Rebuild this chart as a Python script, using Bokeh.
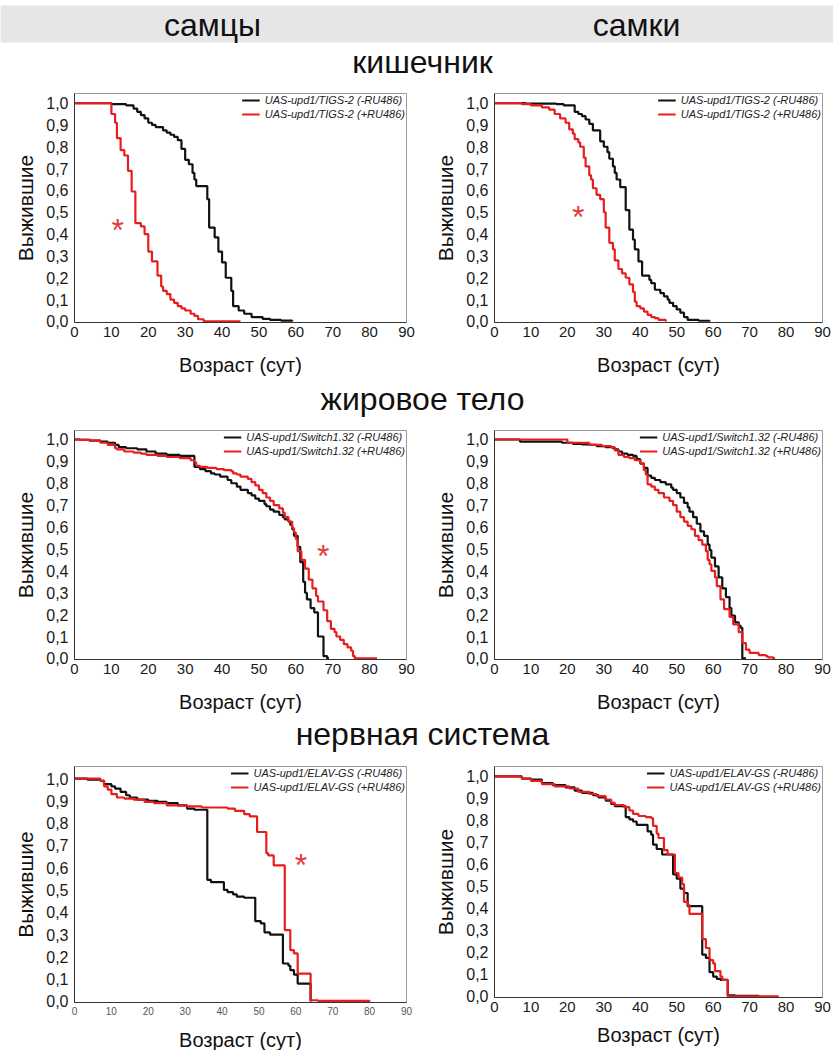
from bokeh.plotting import figure
from bokeh.layouts import column, row
from bokeh.models import Range1d, FixedTicker, Legend, LegendItem, Label, BoxAnnotation
from bokeh.embed import file_html
from bokeh.resources import INLINE

# ---------------- data (survival curves, Kaplan-Meier steps) ----------------
x_ticks = [0, 10, 20, 30, 40, 50, 60, 70, 80, 90]
y_ticks = [0.0, 0.1, 0.2, 0.3, 0.4, 0.5, 0.6, 0.7, 0.8, 0.9, 1.0]
y_tick_labels = ["0,0", "0,1", "0,2", "0,3", "0,4", "0,5", "0,6", "0,7", "0,8", "0,9", "1,0"]

column_titles = ["самцы", "самки"]
tissue_titles = ["кишечник", "жировое тело", "нервная система"]
x_title = "Возраст (сут)"
y_title = "Выжившие"

# gut, males
m_gut_ctrl_day = [0, 10, 14, 16, 17, 18, 19, 20, 21, 22, 24, 25, 26, 27, 28, 29, 30, 31, 32, 32.5,
                  33, 36, 36.5, 38, 39, 40, 41, 42.5, 43, 44.5, 46, 48, 51, 53, 56, 59]
m_gut_ctrl_surv = [1.0, 0.995, 0.99, 0.975, 0.96, 0.945, 0.93, 0.91, 0.90, 0.89, 0.875, 0.865, 0.855, 0.845, 0.83, 0.79, 0.74, 0.72, 0.68, 0.65,
                   0.62, 0.56, 0.43, 0.385, 0.32, 0.27, 0.20, 0.14, 0.07, 0.05, 0.035, 0.02, 0.012, 0.007, 0.004, 0.0]
m_gut_ru_day = [0, 10, 11, 11.5, 12.5, 13.5, 14.5, 15.5, 16.5, 18, 19, 20, 21, 22.5, 23.5, 24, 25, 26, 27, 28,
                29, 30, 31.5, 32.5, 33.5, 35, 45]
m_gut_ru_surv = [1.0, 0.95, 0.91, 0.84, 0.785, 0.76, 0.69, 0.595, 0.45, 0.435, 0.40, 0.32, 0.275, 0.21, 0.16, 0.14, 0.125, 0.10, 0.085, 0.07,
                 0.06, 0.05, 0.035, 0.025, 0.01, 0.0, 0.0]

# gut, females
f_gut_ctrl_day = [0, 8.5, 17, 19, 22, 23, 24, 25, 26, 27, 29, 30, 31, 31.5, 32.5, 33, 33.5, 34.5, 36, 37,
                  38, 38.5, 39.5, 40.5, 42.5, 43, 44, 45.5, 46.5, 47.5, 48, 49, 50, 51, 52, 53, 56, 59]
f_gut_ctrl_surv = [1.0, 0.998, 0.995, 0.99, 0.96, 0.95, 0.94, 0.925, 0.905, 0.875, 0.825, 0.80, 0.775, 0.745, 0.71, 0.68, 0.65, 0.615, 0.51, 0.42,
                   0.375, 0.33, 0.275, 0.21, 0.19, 0.175, 0.145, 0.13, 0.115, 0.10, 0.085, 0.07, 0.055, 0.04, 0.02, 0.007, 0.003, 0.0]
f_gut_ru_day = [0, 7.5, 10, 13, 15, 16.5, 18, 19.5, 20.5, 21.5, 22, 23, 23.5, 24.5, 25, 26, 26.5, 27, 28, 29,
                30, 30.5, 31.5, 32.5, 33, 34, 35, 36, 37, 38, 38.5, 39, 40, 41, 42, 43, 44, 45, 47]
f_gut_ru_surv = [1.0, 0.995, 0.99, 0.98, 0.97, 0.95, 0.93, 0.91, 0.88, 0.86, 0.835, 0.82, 0.80, 0.75, 0.71, 0.67, 0.65, 0.61, 0.58, 0.56,
                 0.50, 0.43, 0.36, 0.33, 0.28, 0.24, 0.22, 0.20, 0.17, 0.135, 0.09, 0.07, 0.06, 0.045, 0.03, 0.02, 0.015, 0.007, 0.0]

# fat body, males
m_fat_ctrl_day = [0, 1.5, 4, 7, 9, 11, 12, 14, 17, 19.5, 22, 25, 28.5, 32.5, 34, 35.5, 37, 38, 39.5, 41.5,
                  42.5, 44, 45, 47, 48, 49, 50, 51.5, 52, 53, 54, 55.5, 56.5, 57, 58, 58.5, 59, 59.5, 60.5, 61.2,
                  62, 62.5, 63, 64, 65, 66, 67.5, 68.5, 69]
m_fat_ctrl_surv = [1.0, 0.998, 0.995, 0.99, 0.985, 0.975, 0.965, 0.96, 0.955, 0.945, 0.935, 0.93, 0.925, 0.875, 0.865, 0.855, 0.845, 0.84, 0.83, 0.815,
                   0.80, 0.785, 0.77, 0.755, 0.745, 0.73, 0.72, 0.705, 0.695, 0.68, 0.67, 0.655, 0.645, 0.635, 0.625, 0.61, 0.59, 0.56, 0.51, 0.44,
                   0.35, 0.30, 0.27, 0.23, 0.21, 0.10, 0.01, 0.0, 0.0]
m_fat_ru_day = [0, 1.5, 4.5, 7, 9, 11, 11.5, 13.5, 16, 18, 19.5, 22.5, 25, 28.5, 31.5, 32.5, 33, 34, 36, 38.5,
                40.5, 42.5, 43, 44, 45, 47, 48, 49, 50, 51, 52, 53, 54, 55.5, 56.5, 57, 58, 59, 59.5, 60,
                60.5, 61.5, 62.5, 63.5, 64.5, 65.5, 66, 67.5, 68.5, 69.5, 70.5, 71, 72, 73, 74, 75, 75.5, 76, 82]
m_fat_ru_surv = [1.0, 0.998, 0.995, 0.985, 0.975, 0.96, 0.955, 0.945, 0.94, 0.935, 0.93, 0.925, 0.92, 0.915, 0.905, 0.895, 0.88, 0.875, 0.87, 0.865,
                 0.86, 0.855, 0.845, 0.84, 0.83, 0.82, 0.805, 0.79, 0.77, 0.755, 0.735, 0.72, 0.70, 0.685, 0.665, 0.645, 0.625, 0.595, 0.575, 0.545,
                 0.49, 0.45, 0.41, 0.36, 0.32, 0.285, 0.26, 0.22, 0.17, 0.135, 0.12, 0.10, 0.085, 0.065, 0.05, 0.035, 0.01, 0.0, 0.0]

# fat body, females
f_fat_ctrl_day = [0, 7, 18.5, 21.5, 24, 26, 28, 30.5, 32.5, 33, 34, 35, 36.5, 38, 39, 40, 41, 42, 43, 44,
                  45.5, 47, 48.5, 49, 50, 51, 52, 53, 53.5, 54.5, 55.5, 56.5, 57.5, 58.5, 59, 59.5, 60.5, 61.5, 62.5, 63.5,
                  64.5, 65, 66, 67, 67.5, 68, 69]
f_fat_ctrl_surv = [1.0, 0.99, 0.985, 0.98, 0.978, 0.975, 0.97, 0.965, 0.96, 0.955, 0.945, 0.935, 0.93, 0.925, 0.91, 0.89, 0.87, 0.835, 0.825, 0.815,
                   0.805, 0.795, 0.78, 0.77, 0.755, 0.735, 0.71, 0.69, 0.67, 0.645, 0.615, 0.58, 0.56, 0.52, 0.495, 0.46, 0.42, 0.37, 0.32, 0.28,
                   0.23, 0.195, 0.165, 0.15, 0.14, 0.0, 0.0]
f_fat_ru_day = [0, 20, 26, 29.5, 32, 33, 34, 35.5, 37, 38.5, 40, 41, 41.5, 42, 43, 44, 45, 46.5, 48, 49,
                50, 51, 52, 53, 54, 55, 56, 57, 58, 58.5, 59, 59.5, 60.5, 61, 62, 63, 64.5, 65.5, 67, 68,
                69, 70, 72.5, 74.5, 75, 76.5, 77]
f_fat_ru_surv = [1.0, 0.985, 0.975, 0.97, 0.965, 0.95, 0.93, 0.92, 0.915, 0.905, 0.89, 0.86, 0.84, 0.795, 0.785, 0.77, 0.755, 0.735, 0.72, 0.70,
                 0.67, 0.645, 0.625, 0.605, 0.59, 0.56, 0.54, 0.52, 0.49, 0.45, 0.43, 0.40, 0.37, 0.33, 0.27, 0.225, 0.19, 0.155, 0.12, 0.07,
                 0.04, 0.025, 0.015, 0.01, 0.005, 0.0, 0.0]

# nervous system, males
m_ns_ctrl_day = [0, 3.5, 7, 8, 10, 11, 12.5, 14, 15, 17, 20, 22.5, 25, 28, 30.5, 32.5, 36, 37, 40.5, 41.5,
                 43, 44, 46, 49, 50.5, 51.5, 53, 56.5, 58, 58.5, 59.5, 60.5, 64]
m_ns_ctrl_surv = [1.0, 0.995, 0.99, 0.975, 0.965, 0.955, 0.94, 0.925, 0.915, 0.905, 0.90, 0.895, 0.89, 0.88, 0.865, 0.86, 0.545, 0.535, 0.50, 0.49,
                  0.48, 0.47, 0.465, 0.36, 0.35, 0.31, 0.30, 0.17, 0.16, 0.14, 0.12, 0.08, 0.0]
m_ns_ru_day = [0, 7, 8, 9, 10, 11.5, 13.5, 16, 19, 21.5, 25, 30.5, 34.5, 41.5, 43.5, 46, 47.5, 49.5, 52, 52.5,
               54, 57, 58.5, 59.5, 60.5, 64, 66, 80]
m_ns_ru_surv = [1.0, 0.99, 0.965, 0.95, 0.93, 0.915, 0.91, 0.905, 0.895, 0.89, 0.88, 0.875, 0.87, 0.865, 0.855, 0.84, 0.83, 0.76, 0.665, 0.655,
                0.61, 0.32, 0.23, 0.215, 0.125, 0.005, 0.002, 0.0]

# nervous system, females
f_ns_ctrl_day = [0, 7.5, 10, 13, 16, 19.5, 22, 24, 27, 28.5, 30.5, 32, 33, 36, 37, 38, 39, 42, 43, 43.5,
                 44.5, 46, 49, 50, 51, 52, 53, 57, 58, 59, 60, 61, 62, 64, 66, 72.5]
f_ns_ctrl_surv = [1.0, 0.99, 0.985, 0.97, 0.96, 0.95, 0.935, 0.925, 0.915, 0.905, 0.89, 0.875, 0.865, 0.815, 0.805, 0.795, 0.78, 0.75, 0.735, 0.69,
                  0.67, 0.645, 0.555, 0.535, 0.49, 0.47, 0.41, 0.19, 0.175, 0.11, 0.09, 0.08, 0.075, 0.005, 0.002, 0.0]
f_ns_ru_day = [0, 7.5, 10, 13, 16.5, 20.5, 23, 26, 28, 30.5, 32, 33, 35.5, 37, 38, 39.5, 41.5, 43, 43.5, 44.5,
               45, 46.5, 47.5, 49.5, 50.5, 51.5, 52, 53, 53.5, 57, 58, 59, 60, 60.5, 62, 62.5, 64, 78]
f_ns_ru_surv = [1.0, 0.99, 0.98, 0.965, 0.955, 0.945, 0.93, 0.92, 0.91, 0.895, 0.88, 0.87, 0.86, 0.845, 0.83, 0.82, 0.815, 0.81, 0.775, 0.74,
                0.72, 0.665, 0.645, 0.56, 0.54, 0.51, 0.43, 0.415, 0.375, 0.26, 0.22, 0.165, 0.15, 0.115, 0.09, 0.075, 0.0, 0.0]

legend_gut = ["UAS-upd1/TIGS-2 (-RU486)", "UAS-upd1/TIGS-2 (+RU486)"]
legend_fat = ["UAS-upd1/Switch1.32 (-RU486)", "UAS-upd1/Switch1.32 (+RU486)"]
legend_ns = ["UAS-upd1/ELAV-GS (-RU486)", "UAS-upd1/ELAV-GS (+RU486)"]

# ---------------- styling ----------------
FONT = "Liberation Sans"
BLACK = "#111111"
RED = "#e61e1e"
FRAME = "#9a9a9a"
AXIS = "#333333"
W = 833


def heading(h, items, band=None):
    p = figure(width=W, height=h, x_range=Range1d(0, W), y_range=Range1d(h, 0),
               x_axis_location=None, y_axis_location=None, toolbar_location=None,
               output_backend="svg", min_border=0)
    p.grid.visible = False
    p.outline_line_color = None
    if band is not None:
        p.add_layout(BoxAnnotation(left=0, right=W, top=band[0], bottom=band[1],
                                   fill_color="#e6e6e6", fill_alpha=1.0, line_color=None))
    for txt, x, y in items:
        p.add_layout(Label(x=x, y=y, text=txt, text_align="center", text_baseline="middle",
                           text_font=FONT, text_font_size="32px", text_color="#111111"))
    return p


def panel(frame, borders, ymax, ctrl, ru, names, star=None, xfs="15px", xcol="#1a1a1a", xstand=14):
    fw, fh = frame
    bl, br, bt, bb = borders
    p = figure(frame_width=fw, frame_height=fh, x_range=Range1d(0, 90), y_range=Range1d(-0.005, ymax),
               min_border_left=bl, min_border_right=br, min_border_top=bt, min_border_bottom=bb,
               toolbar_location=None, output_backend="svg")
    p.grid.visible = False
    p.outline_line_color = FRAME
    p.outline_line_width = 1

    r1 = p.step(x=ctrl[0], y=ctrl[1], mode="after", line_color=BLACK, line_width=2.2)
    r2 = p.step(x=ru[0], y=ru[1], mode="after", line_color=RED, line_width=2.2)

    leg = Legend(items=[LegendItem(label=names[0], renderers=[r1]),
                        LegendItem(label=names[1], renderers=[r2])],
                 location="top_right", background_fill_alpha=0, border_line_color=None,
                 label_text_font=FONT, label_text_font_size="11px", label_text_font_style="italic",
                 label_text_color="#222222", glyph_width=18, glyph_height=12, label_height=12,
                 spacing=2, padding=3, margin=1, label_standoff=5)
    p.add_layout(leg)

    p.xaxis.ticker = FixedTicker(ticks=x_ticks)
    p.yaxis.ticker = FixedTicker(ticks=y_ticks)
    p.yaxis.major_label_overrides = {t: s for t, s in zip(y_ticks, y_tick_labels)}
    for ax in (p.xaxis[0], p.yaxis[0]):
        ax.axis_line_color = AXIS
        ax.major_tick_line_color = None
        ax.major_tick_in = 0
        ax.major_tick_out = 0
        ax.minor_tick_line_color = None
        ax.major_label_text_font = FONT
        ax.axis_label_text_font = FONT
        ax.axis_label_text_font_style = "normal"
        ax.axis_label_text_color = "#111111"
    p.xaxis.axis_label_text_font_size = "20px"
    p.yaxis.axis_label_text_font_size = "21px"
    p.yaxis.major_label_text_font_size = "16px"
    p.yaxis.major_label_text_color = "#1a1a1a"
    p.yaxis.major_label_standoff = 6
    p.yaxis.axis_label_standoff = 6
    p.xaxis.major_label_text_font_size = xfs
    p.xaxis.major_label_text_color = xcol
    p.xaxis.major_label_standoff = 4
    p.xaxis.axis_label_standoff = xstand
    p.xaxis.axis_label = x_title
    p.yaxis.axis_label = y_title

    if star is not None:
        p.add_layout(Label(x=star[0], y=star[1], text="*", text_align="center", text_baseline="middle",
                           text_font=FONT, text_font_size="32px", text_color="#e43a3a"))
    return p


stars = {"gut_m": (11.7, 0.42), "gut_f": (23.0, 0.478), "fat_m": (67.4, 0.47), "ns_m": (61.4, 0.61)}

head1 = heading(80, [(column_titles[0], 212, 24), (column_titles[1], 636, 24), (tissue_titles[0], 422, 61)],
                band=(5, 42))
p1 = panel((332, 229), (74, 9, 13, 58), 1.044, (m_gut_ctrl_day, m_gut_ctrl_surv), (m_gut_ru_day, m_gut_ru_surv),
           legend_gut, stars["gut_m"])
p2 = panel((328, 229), (79, 11, 13, 58), 1.044, (f_gut_ctrl_day, f_gut_ctrl_surv), (f_gut_ru_day, f_gut_ru_surv),
           legend_gut, stars["gut_f"])
head2 = heading(45, [(tissue_titles[1], 422, 18)])
p3 = panel((332, 229), (74, 9, 5, 56), 1.041, (m_fat_ctrl_day, m_fat_ctrl_surv), (m_fat_ru_day, m_fat_ru_surv),
           legend_fat, stars["fat_m"])
p4 = panel((328, 229), (79, 11, 5, 56), 1.041, (f_fat_ctrl_day, f_fat_ctrl_surv), (f_fat_ru_day, f_fat_ru_surv),
           legend_fat)
head3 = heading(45, [(tissue_titles[2], 422, 18)])
p5 = panel((332, 236), (74, 9, 6, 48), 1.054, (m_ns_ctrl_day, m_ns_ctrl_surv), (m_ns_ru_day, m_ns_ru_surv),
           legend_ns, stars["ns_m"], xfs="10px", xcol="#555555", xstand=11)
p6 = panel((328, 231), (79, 11, 6, 53), 1.045, (f_ns_ctrl_day, f_ns_ctrl_surv), (f_ns_ru_day, f_ns_ru_surv),
           legend_ns, xstand=9)

layout = column(head1, row(p1, p2), head2, row(p3, p4), head3, row(p5, p6), spacing=0)

with open("out.html", "w") as f:
    f.write(file_html(layout, INLINE))
